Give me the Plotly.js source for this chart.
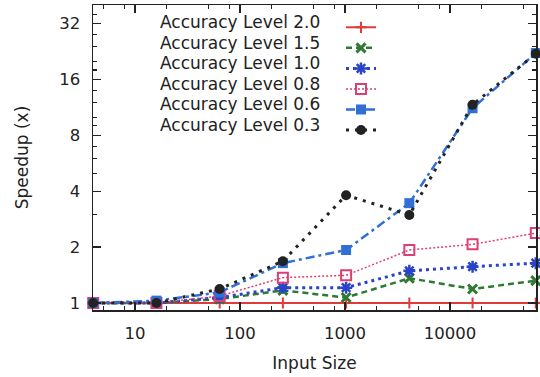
<!DOCTYPE html>
<html><head><meta charset="utf-8">
<script src="https://cdn.plot.ly/plotly-3.0.1.min.js"></script>
<style>html,body{margin:0;padding:0;background:#fff}#chart{width:540px;height:377px}</style>
</head><body><div id="chart"></div>
<script>
// ---- data ----
const inputSizes = [4, 16, 64, 256, 1024, 4096, 16384, 65536];
const seriesNames = ["Accuracy Level 2.0", "Accuracy Level 1.5", "Accuracy Level 1.0",
                     "Accuracy Level 0.8", "Accuracy Level 0.6", "Accuracy Level 0.3"];
const level20 = [1, 1, 1, 1, 1, 1, 1, 1];
const level15 = [1, 1, 1.05, 1.17, 1.07, 1.36, 1.19, 1.32];
const level10 = [1, 1, 1.07, 1.21, 1.21, 1.49, 1.57, 1.64];
const level08 = [1, 1, 1.09, 1.37, 1.41, 1.93, 2.07, 2.38];
const level06 = [1, 1.03, 1.14, 1.64, 1.93, 3.45, 11.2, 22.2];
const level03 = [1, 1, 1.19, 1.68, 3.81, 2.98, 11.7, 22.0];
const xTickVals = [10, 100, 1000, 10000];
const xTickText = ["10", "100", "1000", "10000"];
const yTickVals = [1, 2, 4, 8, 16, 32];
const yTickText = ["1", "2", "4", "8", "16", "32"];
const xMinorTicks = [5, 8, 20, 50, 80, 200, 500, 800, 2000, 5000, 8000, 20000, 50000];
const yMinorTicks = [3, 5, 6, 7, 9, 10, 12, 14, 18, 20, 24, 28, 36];

// ---- styles ----
const seriesValues = [level20, level15, level10, level08, level06, level03];
const styles = [
  {color: "#e03a3a", dash: "solid",          width: 2,   symbol: "cross-thin-open", size: 8,  mlw: 2},
  {color: "#2e7a32", dash: "6px,4px",        width: 2.5, symbol: "x-thin-open",     size: 9,  mlw: 3},
  {color: "#2a44c8", dash: "3px,4px",        width: 3,   symbol: "asterisk-open",   size: 10, mlw: 2.5},
  {color: "#dc3f74", dash: "2px,2px",        width: 1.5, symbol: "square-open",     size: 10, mlw: 2},
  {color: "#2f6fd6", dash: "9px,4px,3px,4px",width: 2.5, symbol: "square",          size: 10, mlw: 0},
  {color: "#222222", dash: "3px,6px",        width: 3,   symbol: "circle",          size: 10, mlw: 0}
];

const traces = seriesValues.map((vals, i) => ({
  type: "scatter", mode: "lines+markers",
  x: inputSizes, y: vals, name: " ",
  cliponaxis: false,
  line: {color: styles[i].color, dash: styles[i].dash, width: styles[i].width},
  marker: {symbol: styles[i].symbol, size: styles[i].size, color: styles[i].color,
           line: {color: styles[i].color, width: styles[i].mlw}}
}));

const font = "DejaVu Sans, sans-serif";
const plotTop = 5, plotBottom = 310, plotLeft = 93, plotRight = 536;
const ph = plotBottom - plotTop, pw = plotRight - plotLeft;
const rowTop = 22.5, rowStep = 20.4, textRight = 322;

const annotations = seriesNames.map((t, i) => ({
  xref: "paper", yref: "paper", x: (textRight - plotLeft) / pw,
  y: (plotBottom - (rowTop + i * rowStep)) / ph,
  xanchor: "right", yanchor: "middle", showarrow: false, text: t,
  font: {family: font, size: 17, color: "#222"}
}));

const axisCommon = {
  showline: true, linecolor: "#222", linewidth: 1.5, mirror: "ticks",
  ticks: "inside", ticklen: 8, tickwidth: 1.5, tickcolor: "#222",
  showgrid: false, zeroline: false,
  tickfont: {family: font, size: 16.5, color: "#222"}
};

const layout = {
  width: 540, height: 377,
  margin: {l: plotLeft, r: 540 - plotRight, t: plotTop, b: 377 - plotBottom, pad: 0},
  paper_bgcolor: "#fff", plot_bgcolor: "#fff",
  showlegend: true,
  legend: {x: (341 - plotLeft) / pw, xanchor: "left", y: (plotBottom - 12) / ph, yanchor: "top",
           bgcolor: "rgba(0,0,0,0)", font: {family: font, size: 13.5}, tracegroupgap: 0},
  xaxis: Object.assign({}, axisCommon, {
    type: "log", range: [Math.log10(4) - 0.002, Math.log10(65536) + 0.002],
    tickmode: "array", tickvals: xTickVals, ticktext: xTickText, ticklabelstandoff: 8,
    minor: {tickmode: "array", tickvals: xMinorTicks, ticks: "inside", ticklen: 4, tickwidth: 1.2, tickcolor: "#222"},
    title: {text: "Input Size", font: {family: font, size: 17, color: "#222"}, standoff: 15}
  }),
  yaxis: Object.assign({}, axisCommon, {
    type: "log", range: [Math.log10(0.917), Math.log10(40.3)],
    tickmode: "array", tickvals: yTickVals, ticktext: yTickText, ticklabelstandoff: 8,
    minor: {tickmode: "array", tickvals: yMinorTicks, ticks: "inside", ticklen: 4, tickwidth: 1.2, tickcolor: "#222"},
    title: {text: "Speedup (x)", font: {family: font, size: 17, color: "#222"}, standoff: 26}
  }),
  annotations: annotations
};

Plotly.newPlot("chart", traces, layout, {displayModeBar: false, staticPlot: true});
</script>
</body></html>
